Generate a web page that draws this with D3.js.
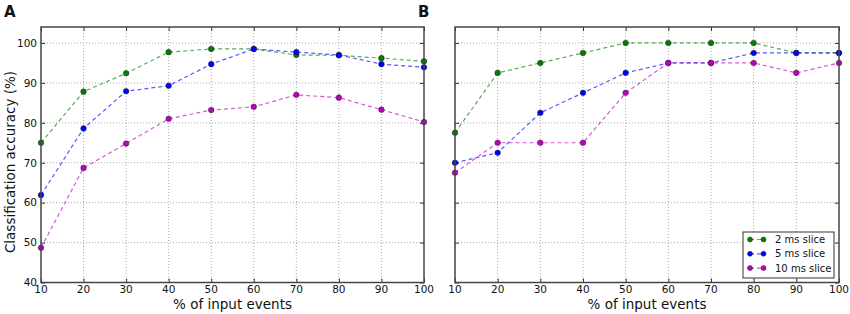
<!DOCTYPE html>
<html>
<head>
<script src="https://cdn.jsdelivr.net/npm/d3@7"></script>
<style>
  body { margin: 0; background: #fff; }
  text { font-family: "DejaVu Sans", sans-serif; }
</style>
</head>
<body>
<svg id="chart" width="850" height="314"></svg>
<script>
  var percents = [10, 20, 30, 40, 50, 60, 70, 80, 90, 100];
  var seriesNames = ['2 ms slice', '5 ms slice', '10 ms slice'];
  var seriesColors = ['#008000', '#0000ff', '#bf00bf'];

  // panel A
  var a2ms = [75.0, 87.8, 92.4, 97.7, 98.5, 98.5, 97.0, 96.9, 96.2, 95.4];
  var a5ms = [61.9, 78.6, 87.9, 89.3, 94.7, 98.5, 97.7, 97.0, 94.7, 93.9];
  var a10ms = [48.7, 68.7, 74.8, 81.0, 83.2, 84.0, 87.0, 86.3, 83.3, 80.2];

  // panel B
  var b2ms = [77.5, 92.5, 95.0, 97.5, 100, 100, 100, 100, 97.5, 97.5];
  var b5ms = [70.0, 72.5, 82.5, 87.5, 92.5, 95.0, 95.0, 97.5, 97.5, 97.5];
  var b10ms = [67.5, 75.0, 75.0, 75.0, 87.5, 95.0, 95.0, 95.0, 92.5, 95.0];

  var yTicks = [40, 50, 60, 70, 80, 90, 100];

  var svg = d3.select('#chart');
  var plotTop = 27, plotBottom = 282.5;

  var drawPanel = (left, right, letter, series, showY, showLegend) => {
    var x = d3.scaleLinear().domain([10, 100]).range([left, right]);
    var y = d3.scaleLinear().domain([40, 104]).range([plotBottom, plotTop]);
    var g = svg.append('g');

    // grid
    g.selectAll('.vg').data(percents.slice(1, -1)).enter().append('line')
      .attr('x1', d => x(d)).attr('x2', d => x(d))
      .attr('y1', plotTop).attr('y2', plotBottom)
      .attr('stroke', '#aaa').attr('stroke-width', 1).attr('stroke-dasharray', '1,2');
    g.selectAll('.hg').data(yTicks.slice(1)).enter().append('line')
      .attr('x1', left).attr('x2', right)
      .attr('y1', d => y(d)).attr('y2', d => y(d))
      .attr('stroke', '#aaa').attr('stroke-width', 1).attr('stroke-dasharray', '1,2');

    // ticks inside, all sides
    var xt = d3.axisBottom(x).tickValues(percents).tickSizeInner(-4).tickSizeOuter(0).tickFormat('');
    var xt2 = d3.axisTop(x).tickValues(percents).tickSizeInner(-4).tickSizeOuter(0).tickFormat('');
    var yt = d3.axisLeft(y).tickValues(yTicks).tickSizeInner(-4).tickSizeOuter(0).tickFormat('');
    var yt2 = d3.axisRight(y).tickValues(yTicks).tickSizeInner(-4).tickSizeOuter(0).tickFormat('');
    [[xt, 0, plotBottom], [xt2, 0, plotTop], [yt, left, 0], [yt2, right, 0]].forEach(a => {
      var ag = g.append('g').attr('transform', 'translate(' + a[1] + ',' + a[2] + ')').call(a[0]);
      ag.select('.domain').remove();
      ag.selectAll('line').attr('stroke', '#333');
    });

    // tick labels
    g.selectAll('.xl').data(percents).enter().append('text')
      .attr('x', d => x(d)).attr('y', plotBottom + 10.5)
      .attr('text-anchor', 'middle').attr('font-size', 10.5).attr('fill', '#111')
      .text(d => d);
    if (showY) {
      g.selectAll('.yl').data(yTicks).enter().append('text')
        .attr('x', left - 4).attr('y', d => y(d) + 3.8)
        .attr('text-anchor', 'end').attr('font-size', 10.5).attr('fill', '#111')
        .text(d => d);
      g.append('text')
        .attr('transform', 'translate(15,162) rotate(-90)')
        .attr('text-anchor', 'middle').attr('font-size', 13.5).attr('fill', '#111')
        .text('Classification accuracy (%)');
    }
    g.append('text')
      .attr('x', (left + right) / 2).attr('y', 308.5)
      .attr('text-anchor', 'middle').attr('font-size', 13.5).attr('fill', '#111')
      .text('% of input events');

    g.append('text')
      .attr('x', left - 37).attr('y', 17)
      .attr('font-size', 15).attr('font-weight', 'bold').attr('fill', '#111')
      .text(letter);

    // series
    var line = d3.line().x((d, i) => x(percents[i])).y(d => y(d));
    series.forEach((vals, k) => {
      g.append('path').datum(vals)
        .attr('d', line).attr('fill', 'none')
        .attr('stroke', seriesColors[k]).attr('stroke-opacity', 0.65)
        .attr('stroke-width', 1.2).attr('stroke-dasharray', '4,3');
    });
    series.forEach((vals, k) => {
      g.selectAll('.pt' + k).data(vals).enter().append('circle')
        .attr('cx', (d, i) => x(percents[i])).attr('cy', d => y(d))
        .attr('r', 2.8).attr('fill', seriesColors[k])
        .attr('stroke', '#222').attr('stroke-width', 0.5);
    });

    // frame
    g.append('rect')
      .attr('x', left).attr('y', plotTop)
      .attr('width', right - left).attr('height', plotBottom - plotTop)
      .attr('fill', 'none').attr('stroke', '#444').attr('stroke-width', 1.5);

    if (showLegend) {
      var lg = g.append('g');
      lg.append('rect')
        .attr('x', 743).attr('y', 232).attr('width', 91).attr('height', 46)
        .attr('fill', '#fff').attr('stroke', '#333').attr('stroke-width', 1);
      seriesNames.forEach((name, k) => {
        var yy = 239.5 + k * 14.3;
        lg.append('line').attr('x1', 750).attr('x2', 763.5).attr('y1', yy).attr('y2', yy)
          .attr('stroke', seriesColors[k]).attr('stroke-opacity', 0.65)
          .attr('stroke-width', 1.2).attr('stroke-dasharray', '4,3');
        [750, 763.5].forEach(cx => {
          lg.append('circle').attr('cx', cx).attr('cy', yy).attr('r', 2.5)
            .attr('fill', seriesColors[k]).attr('stroke', '#222').attr('stroke-width', 0.5);
        });
        lg.append('text').attr('x', 775).attr('y', yy + 3.5)
          .attr('font-size', 10).attr('fill', '#111').text(name);
      });
    }
  };

  drawPanel(41, 424, 'A', [a2ms, a5ms, a10ms], true, false);
  drawPanel(455, 839, 'B', [b2ms, b5ms, b10ms], false, true);
</script>
</body>
</html>
